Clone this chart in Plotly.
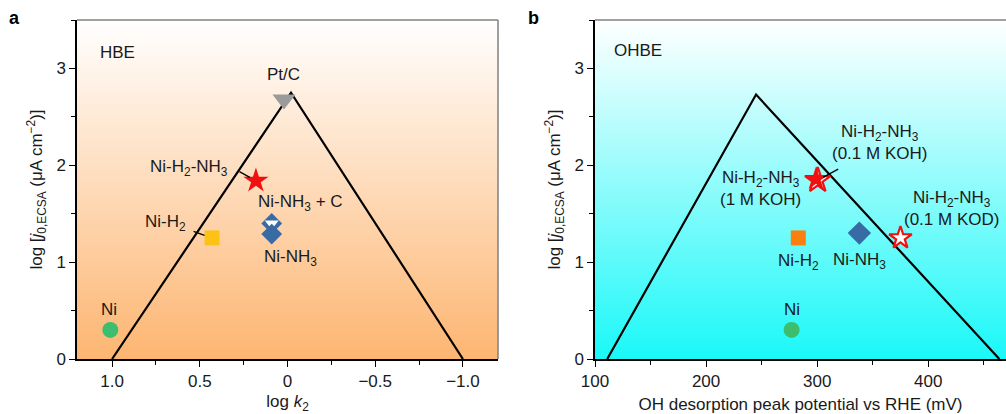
import numpy as np
import plotly.graph_objects as go

# ---------------- data ----------------
# Panel a (HBE): log k2 vs log j0,ECSA
a_tri_x = [1.0, -0.02, -1.0]
a_tri_y = [0.0, 2.75, 0.0]

a_names = ["Pt/C", "Ni-H2-NH3", "Ni-NH3 + C", "Ni-NH3", "Ni-H2", "Ni"]
a_x = [0.02, 0.18, 0.09, 0.09, 0.43, 1.01]
a_y = [2.68, 1.84, 1.40, 1.29, 1.25, 0.30]

# Panel b (OHBE): OH desorption peak potential (mV) vs log j0,ECSA
b_tri_x = [111, 245, 464]
b_tri_y = [0.0, 2.73, 0.0]

b_names = ["Ni-H2-NH3 (0.1 M KOH)", "Ni-H2-NH3 (1 M KOH)", "Ni-H2-NH3 (0.1 M KOD)",
           "Ni-H2", "Ni-NH3", "Ni"]
b_x = [300.5, 299, 375, 283, 338, 277]
b_y = [1.845, 1.86, 1.25, 1.25, 1.30, 0.30]

a_xtick_vals = [1.0, 0.5, 0.0, -0.5, -1.0]
a_xtick_text = ["1.0", "0.5", "0", "\u22120.5", "\u22121.0"]
b_xtick_vals = [100, 200, 300, 400]
b_xtick_text = ["100", "200", "300", "400"]
ytick_vals = [0, 1, 2, 3]
ytick_text = ["0", "1", "2", "3"]

A_XRANGE = [1.2, -1.2]
B_XRANGE = [100, 470]
YRANGE = [0, 3.5]

FONT = "Liberation Sans, Arial, Helvetica, sans-serif"
TXT = "#1a1a1a"
FS = 17

fig = go.Figure()

# ---------------- gradient backgrounds ----------------
yy = np.linspace(YRANGE[0], YRANGE[1], 60)
zz = np.tile(yy.reshape(-1, 1), (1, 2))
fig.add_trace(go.Heatmap(x=A_XRANGE, y=yy, z=zz, zsmooth="best", showscale=False,
                         colorscale=[[0, "#FDB571"], [1, "#FFFFFF"]],
                         zmin=YRANGE[0], zmax=YRANGE[1], hoverinfo="skip",
                         xaxis="x", yaxis="y"))
fig.add_trace(go.Heatmap(x=B_XRANGE, y=yy, z=zz, zsmooth="best", showscale=False,
                         colorscale=[[0, "#1AF8F8"], [1, "#FFFFFF"]],
                         zmin=YRANGE[0], zmax=YRANGE[1], hoverinfo="skip",
                         xaxis="x2", yaxis="y2"))

# ---------------- volcano lines ----------------
fig.add_trace(go.Scatter(x=a_tri_x, y=a_tri_y, mode="lines",
                         line=dict(color="black", width=2.2), xaxis="x", yaxis="y"))
fig.add_trace(go.Scatter(x=b_tri_x, y=b_tri_y, mode="lines",
                         line=dict(color="black", width=2.2), xaxis="x2", yaxis="y2"))

# ---------------- markers panel a ----------------
a_style = {
    "Pt/C": dict(symbol="triangle-down", size=20, color="#9B9B9B", line=dict(width=0)),
    "Ni-H2-NH3": dict(symbol="star", size=19, color="#F01010", line=dict(width=0)),
    "Ni-NH3 + C": dict(symbol="diamond", size=16, color="#386BA3", line=dict(width=0)),
    "Ni-NH3": dict(symbol="diamond", size=16, color="#386BA3", line=dict(width=0)),
    "Ni-H2": dict(symbol="square", size=15, color="#FDC314", line=dict(width=0)),
    "Ni": dict(symbol="circle", size=16, color="#3DBE6E", line=dict(width=0)),
}
for n, x, y in zip(a_names, a_x, a_y):
    fig.add_trace(go.Scatter(x=[x], y=[y], mode="markers", marker=a_style[n],
                             xaxis="x", yaxis="y"))
    if n == "Ni-NH3 + C":
        # white lower half of the half-filled diamond
        fig.add_trace(go.Scatter(x=[x], y=[y], mode="markers",
                                 marker=dict(symbol="triangle-down", size=12, color="white",
                                             line=dict(width=0)),
                                 xaxis="x", yaxis="y"))

# ---------------- markers panel b ----------------
b_style = {
    "Ni-H2-NH3 (0.1 M KOH)": dict(symbol="star", size=19, color="white",
                                  line=dict(color="#F01010", width=2.2)),
    "Ni-H2-NH3 (1 M KOH)": dict(symbol="star", size=18, color="#F01010", line=dict(width=0)),
    "Ni-H2-NH3 (0.1 M KOD)": dict(symbol="star", size=17, color="white",
                                  line=dict(color="#F01010", width=2.2)),
    "Ni-H2": dict(symbol="square", size=15, color="#FA7F0E", line=dict(width=0)),
    "Ni-NH3": dict(symbol="diamond", size=18, color="#386BA3", line=dict(width=0)),
    "Ni": dict(symbol="circle", size=16, color="#3DBE6E", line=dict(width=0)),
}
for n, x, y in zip(b_names, b_x, b_y):
    fig.add_trace(go.Scatter(x=[x], y=[y], mode="markers", marker=b_style[n],
                             xaxis="x2", yaxis="y2"))

# ---------------- annotations ----------------
ann = []


def label(text, x, y, xs, ys, xref, yref, align="center"):
    ann.append(dict(text=text, x=x, y=y, xref=xref, yref=yref, xshift=xs, yshift=ys,
                    showarrow=False, align=align, font=dict(family=FONT, size=FS, color=TXT)))


def leader(x, y, ax, ay, xref, yref, standoff):
    ann.append(dict(text="", x=x, y=y, xref=xref, yref=yref, ax=ax, ay=ay,
                    showarrow=True, arrowhead=0, arrowwidth=1.3, arrowcolor="black",
                    standoff=standoff))


sub_names = {
    "Pt/C": "Pt/C",
    "Ni-H2-NH3": "Ni-H<sub>2</sub>-NH<sub>3</sub>",
    "Ni-NH3 + C": "Ni-NH<sub>3</sub> + C",
    "Ni-NH3": "Ni-NH<sub>3</sub>",
    "Ni-H2": "Ni-H<sub>2</sub>",
    "Ni": "Ni",
}
a_off = {
    "Pt/C": (0, 25),
    "Ni-H2-NH3": (-67, 13),
    "Ni-NH3 + C": (29, 20),
    "Ni-NH3": (19, -24),
    "Ni-H2": (-47, 15),
    "Ni": (-1, 20),
}
ai = {n: i for i, n in enumerate(a_names)}
for n in a_names:
    label(sub_names[n], a_x[ai[n]], a_y[ai[n]], a_off[n][0], a_off[n][1], "x", "y")
leader(a_x[ai["Ni-H2-NH3"]], a_y[ai["Ni-H2-NH3"]], -18, -10, "x", "y", 7)
leader(a_x[ai["Ni-H2"]], a_y[ai["Ni-H2"]], -20, -7, "x", "y", 8)

b_text = {
    "Ni-H2-NH3 (0.1 M KOH)": "Ni-H<sub>2</sub>-NH<sub>3</sub><br>(0.1 M KOH)",
    "Ni-H2-NH3 (1 M KOH)": "Ni-H<sub>2</sub>-NH<sub>3</sub><br>(1 M KOH)",
    "Ni-H2-NH3 (0.1 M KOD)": "Ni-H<sub>2</sub>-NH<sub>3</sub><br>(0.1 M KOD)",
    "Ni-H2": "Ni-H<sub>2</sub>",
    "Ni-NH3": "Ni-NH<sub>3</sub>",
    "Ni": "Ni",
}
b_off = {
    "Ni-H2-NH3 (0.1 M KOH)": (62, 38),
    "Ni-H2-NH3 (1 M KOH)": (-56, -10),
    "Ni-H2-NH3 (0.1 M KOD)": (51, 29),
    "Ni-H2": (0, -24),
    "Ni-NH3": (0, -28),
    "Ni": (0, 20),
}
bi = {n: i for i, n in enumerate(b_names)}
for n in b_names:
    label(b_text[n], b_x[bi[n]], b_y[bi[n]], b_off[n][0], b_off[n][1], "x2", "y2")
leader(b_x[bi["Ni-H2-NH3 (0.1 M KOH)"]], b_y[bi["Ni-H2-NH3 (0.1 M KOH)"]], 22, -12, "x2", "y2", 6)

# panel titles
ann.append(dict(text="HBE", x=0.05, y=0.905, xref="x domain", yref="y domain",
                xanchor="left", yanchor="middle", showarrow=False,
                font=dict(family=FONT, size=FS, color=TXT)))
ann.append(dict(text="OHBE", x=0.041, y=0.91, xref="x2 domain", yref="y2 domain",
                xanchor="left", yanchor="middle", showarrow=False,
                font=dict(family=FONT, size=FS, color=TXT)))
ann.append(dict(text="<b>a</b>", x=14 / 1006, y=1.006, xref="paper", yref="paper",
                xanchor="center", yanchor="middle", showarrow=False,
                font=dict(family=FONT, size=18, color="black")))
ann.append(dict(text="<b>b</b>", x=533 / 1006, y=1.006, xref="paper", yref="paper",
                xanchor="center", yanchor="middle", showarrow=False,
                font=dict(family=FONT, size=18, color="black")))

# ---------------- frame shapes (top / right borders) ----------------
shapes = [
    dict(type="line", xref="x domain", yref="y domain", x0=0, x1=1, y0=1, y1=1,
         line=dict(color="#808080", width=1.5)),
    dict(type="line", xref="x domain", yref="y domain", x0=1, x1=1, y0=0, y1=1,
         line=dict(color="#808080", width=1.5)),
    dict(type="line", xref="x2 domain", yref="y2 domain", x0=0, x1=1, y0=1, y1=1,
         line=dict(color="#808080", width=1.5)),
]

axis_common = dict(showgrid=False, zeroline=False, showline=True, linecolor="black",
                   linewidth=1.5, ticks="outside", ticklen=6, tickwidth=1.2,
                   tickcolor="black", automargin=False,
                   tickfont=dict(family=FONT, size=FS, color=TXT))


def minor(dt):
    return dict(dtick=dt, tick0=0, ticks="outside", ticklen=4, tickwidth=1.2,
                tickcolor="black")


ytitle = "log [<i>j</i><sub>0,ECSA</sub> (\u03bcA cm<sup>\u22122</sup>)]"

fig.update_layout(
    width=1006, height=414,
    margin=dict(l=0, r=0, t=20, b=55),
    paper_bgcolor="white", plot_bgcolor="white",
    showlegend=False,
    font=dict(family=FONT, color=TXT),
    xaxis=dict(domain=[77 / 1006, 498 / 1006], range=A_XRANGE, tickvals=a_xtick_vals,
               ticktext=a_xtick_text, anchor="y", minor=minor(0.25),
               title=dict(text="log <i>k</i><sub>2</sub>", standoff=10,
                          font=dict(family=FONT, size=FS, color=TXT)),
               **axis_common),
    yaxis=dict(domain=[0, 1], range=YRANGE, tickvals=ytick_vals, ticktext=ytick_text,
               anchor="x", minor=minor(0.5),
               title=dict(text=ytitle, standoff=9, font=dict(family=FONT, size=FS, color=TXT)),
               **axis_common),
    xaxis2=dict(domain=[595 / 1006, 1.0], range=B_XRANGE, tickvals=b_xtick_vals,
                ticktext=b_xtick_text, anchor="y2", minor=minor(50),
                title=dict(text="OH desorption peak potential vs RHE (mV)", standoff=10,
                           font=dict(family=FONT, size=FS, color=TXT)),
                **axis_common),
    yaxis2=dict(domain=[0, 1], range=YRANGE, tickvals=ytick_vals, ticktext=ytick_text,
                anchor="x2", minor=minor(0.5),
                title=dict(text=ytitle, standoff=9, font=dict(family=FONT, size=FS, color=TXT)),
                **axis_common),
    annotations=ann,
    shapes=shapes,
)

fig.write_html("out.html", config={"displayModeBar": False},
               post_script="document.body.style.margin='0';document.body.style.padding='0';"
                           "document.body.style.overflow='hidden';")
